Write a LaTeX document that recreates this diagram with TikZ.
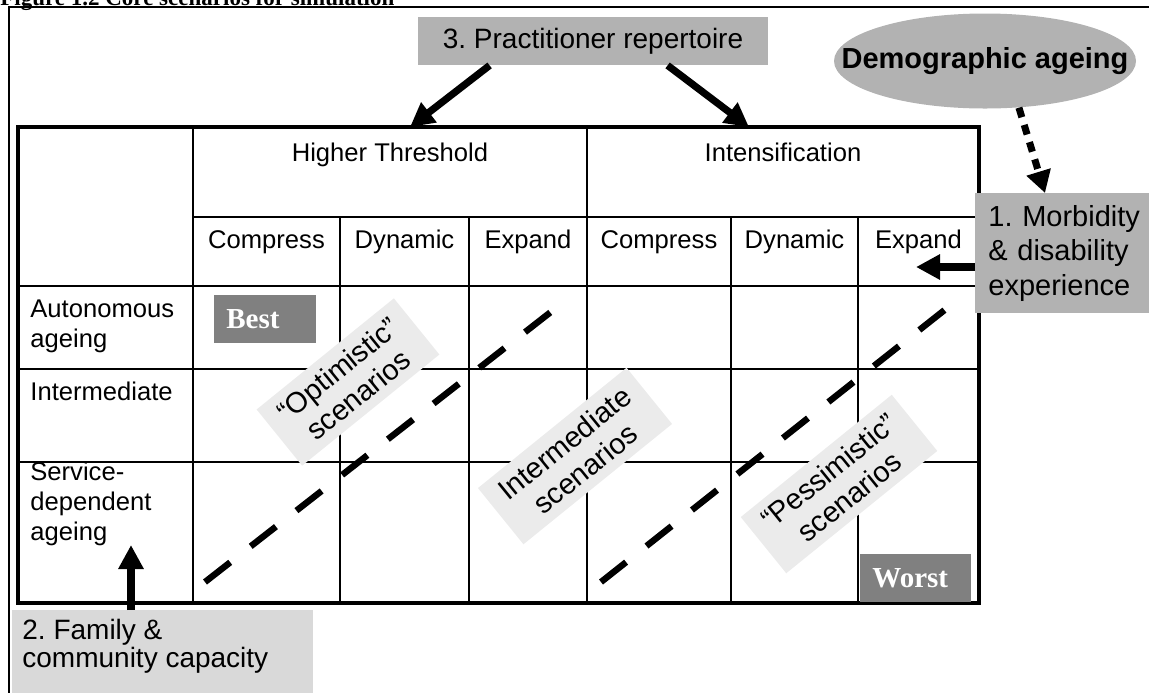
\documentclass[tikz,border=0pt]{standalone}
\usepackage{fontspec}
\setmainfont{Liberation Sans}
\newfontfamily\serifbox{Liberation Serif}
\usetikzlibrary{shapes.geometric,arrows.meta}
\frenchspacing
\definecolor{boxdark}{HTML}{B2B2B2}
\definecolor{boxlight}{HTML}{D9D9D9}
\definecolor{scengray}{HTML}{EBEBEB}
\definecolor{rankgray}{HTML}{808080}
\tikzset{
  cell/.style={font=\fontsize{12.8}{15}\selectfont, inner sep=0pt},
  rowlabel/.style={cell, anchor=north west, align=left},
  bigarrow/.style={line width=3.6pt, -{Triangle[length=12pt,width=12pt]}},
  dotarrow/.style={line width=3.5pt, dash pattern=on 5pt off 4pt, -{Triangle[length=11pt,width=12pt]}},
  scenlabel/.style={fill=scengray, rotate=39, align=center, inner xsep=7.5pt, inner ysep=4.5pt, font=\fontsize{14.5}{16.5}\selectfont},
  scenline/.style={line width=3.2pt, dash pattern=on 16pt off 13pt},
  rankbox/.style={fill=rankgray, text=white, anchor=north west, align=left, inner xsep=6pt, minimum height=24pt, font=\serifbox\bfseries\fontsize{14.5}{16}\selectfont}
}
\begin{document}
\begin{tikzpicture}[x=0.5pt,y=-0.5pt]
\useasboundingbox (0,0) rectangle (1149,692);
\clip (0,0) rectangle (1149,692);
% frame and title
\draw[line width=1pt] (9,720) -- (9,7) -- (1170,7);
\node[anchor=base west, inner sep=0pt, font=\serifbox\bfseries\fontsize{11.5}{13}\selectfont] (title) at (0,5) {Figure 1.2 Core scenarios for simulation};

% table grid
\draw[line width=1pt] (193,217) -- (979,217);
\foreach \y in {286,369,462} \draw[line width=1pt] (18,\y) -- (979,\y);
\foreach \x in {193,587} \draw[line width=1pt] (\x,127) -- (\x,603);
\foreach \x in {340,469,731,858} \draw[line width=1pt] (\x,217) -- (\x,603);
\draw[line width=1.6pt] (18,127) rectangle (979,603);

% headers
\node[cell, anchor=base] (ht) at (390,161) {Higher Threshold};
\node[cell, anchor=base] (int) at (783,161) {Intensification};
\node[cell, anchor=base] (htc) at (266.5,248) {Compress};
\node[cell, anchor=base] (htd) at (404.5,248) {Dynamic};
\node[cell, anchor=base] (hte) at (528,248) {Expand};
\node[cell, anchor=base] (inc) at (659,248) {Compress};
\node[cell, anchor=base] (ind) at (794.5,248) {Dynamic};
\node[cell, anchor=base] (ine) at (918.5,248) {Expand};
\node[rowlabel] (auto) at (30,299) {Autonomous\\ageing};
\node[rowlabel] (inter) at (30,382) {Intermediate};
\node[rowlabel] (serv) at (30,462) {Service-\\dependent\\ageing};

% scenario labels
\node[scenlabel] (opt) at (348,382) {``Optimistic''\\scenarios};
\node[scenlabel] (mid) at (575,456) {Intermediate\\scenarios};
\node[scenlabel] (pess) at (839,484) {``Pessimistic''\\scenarios};

% scenario bands
\coordinate (optlo) at (205,582);
\coordinate (opthi) at (570,297);
\coordinate (pesslo) at (601,582);
\coordinate (pesshi) at (961,297);
\draw[scenline] (optlo) -- (opthi);
\draw[scenline] (pesslo) -- (pesshi);

\node[rankbox, text width=39pt] (best) at (214,295) {Best};
\node[rankbox, text width=43.5pt] (worst) at (860,554) {Worst};

% drivers
\node[fill=boxdark, minimum width=175pt, minimum height=24pt, inner sep=0pt, font=\fontsize{14}{16}\selectfont] (prac) at (593,41) {3. Practitioner repertoire};
\node[ellipse, fill=boxdark, minimum width=151pt, minimum height=47.5pt, inner sep=0pt,
      label={[font=\bfseries\fontsize{14.5}{17}\selectfont]center:Demographic ageing}] (demo) at (985,61) {};
\node[fill=boxdark, anchor=north west, align=left, text width=85pt, inner xsep=6.5pt, inner ysep=6pt,
      font=\fontsize{14.5}{17.25}\selectfont] (morb) at (975,193) {1. Morbidity\\\& disability\\experience};
\node[fill=boxlight, anchor=north west, minimum width=150.5pt, minimum height=45pt, inner sep=0pt] (fam) at (12,610) {};
\node[anchor=north west, align=left, inner sep=0pt, font=\fontsize{14}{14}\selectfont] (famtext) at (22,619) {2. Family \&\\community capacity};

\coordinate (tipht) at (410,127);
\coordinate (tipint) at (749,127);
\coordinate (tipmorb) at (916,267);
\coordinate (tipfam) at (131,545);
\draw[bigarrow] ([xshift=36pt]prac.south west) -- (tipht);
\draw[bigarrow] ([xshift=125pt]prac.south west) -- (tipint);
\draw[dotarrow] (demo.-54) -- ([xshift=35pt]morb.north west);
\draw[bigarrow] ([yshift=-37pt]morb.north west) -- (tipmorb);
\draw[bigarrow] ([xshift=59.5pt]fam.north west) -- (tipfam);
\end{tikzpicture}
\end{document}
